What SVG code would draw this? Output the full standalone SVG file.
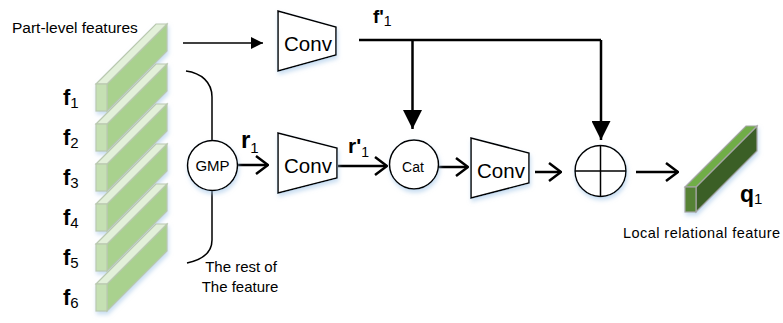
<svg xmlns="http://www.w3.org/2000/svg" width="783" height="323" viewBox="0 0 783 323">
<style>
.txt{font-family:"Liberation Sans",Arial,sans-serif;fill:#000}
.b{font-weight:bold}
.sh{fill:#fff;stroke:#000;stroke-width:1.5}
.ln{fill:none;stroke:#000;stroke-width:2.5}
.thin{fill:none;stroke:#000;stroke-width:1.5}
.ft{fill:#e2f0d9;stroke:#b9c8b0;stroke-width:1.2}
.ff{fill:#c5e0b3;stroke:#b9c8b0;stroke-width:1.2}
.fr{fill:#a9d18e;stroke:#b9c8b0;stroke-width:1.2}
</style>
<defs>
<filter id="glow" x="-30%" y="-30%" width="160%" height="160%">
<feDropShadow dx="1" dy="3" stdDeviation="2" flood-color="#9dc3e6" flood-opacity="0.55"/>
</filter>
<g id="bar">
<polygon class="fr" points="11,0 71,-60 71,-33 11,27"/>
<polygon class="ft" points="0,0 11,0 71,-60 60,-60"/>
<rect class="ff" x="0" y="0" width="11" height="27"/>
</g>
<marker id="tri" viewBox="0 0 10 10" refX="10" refY="5" markerWidth="12" markerHeight="12" markerUnits="userSpaceOnUse" orient="auto">
<path d="M0,0 L10,5 L0,10 Z" fill="#000"/>
</marker>
<marker id="triB" viewBox="0 0 20 20" refX="20" refY="10" markerWidth="20" markerHeight="19" markerUnits="userSpaceOnUse" orient="auto">
<path d="M0,0 L20,10 L0,20 Z" fill="#000"/>
</marker>
<marker id="chev" viewBox="0 0 14 20" refX="13" refY="10" markerWidth="14" markerHeight="20" markerUnits="userSpaceOnUse" orient="auto">
<path d="M1,1 L13,10 L1,19" fill="none" stroke="#000" stroke-width="2.5"/>
</marker>
</defs>

<text class="txt" x="12" y="33" font-size="15.5">Part-level features</text>

<g id="bars" filter="url(#glow)">
<g id="bar-f1"><use href="#bar" x="96" y="84"/></g>
<g id="bar-f2"><use href="#bar" x="96" y="124"/></g>
<g id="bar-f3"><use href="#bar" x="96" y="164"/></g>
<g id="bar-f4"><use href="#bar" x="96" y="204"/></g>
<g id="bar-f5"><use href="#bar" x="96" y="244"/></g>
<g id="bar-f6"><use href="#bar" x="96" y="284"/></g>
</g>
<g id="flabels">
<text class="txt b" x="63" y="105" font-size="22">f<tspan font-weight="normal" font-size="15" dy="3">1</tspan></text>
<text class="txt b" x="63" y="145" font-size="22">f<tspan font-weight="normal" font-size="15" dy="3">2</tspan></text>
<text class="txt b" x="63" y="185" font-size="22">f<tspan font-weight="normal" font-size="15" dy="3">3</tspan></text>
<text class="txt b" x="63" y="225" font-size="22">f<tspan font-weight="normal" font-size="15" dy="3">4</tspan></text>
<text class="txt b" x="63" y="265" font-size="22">f<tspan font-weight="normal" font-size="15" dy="3">5</tspan></text>
<text class="txt b" x="63" y="305" font-size="22">f<tspan font-weight="normal" font-size="15" dy="3">6</tspan></text>
</g>

<g id="connectors">
<line class="thin" x1="183" y1="43" x2="263" y2="43" marker-end="url(#tri)"/>
<path class="thin" d="M186,71 C201,73 212,82 212,97 L212,141"/>
<path class="thin" d="M212,190 L212,240 C212,253 201,260 187,263"/>
<path class="ln" d="M359,40 L601,40"/>
<line class="ln" x1="412.5" y1="40" x2="412.5" y2="129" marker-end="url(#triB)"/>
<line class="ln" x1="601" y1="40" x2="601" y2="140" marker-end="url(#triB)"/>
<line class="ln" x1="238" y1="165" x2="268" y2="165" marker-end="url(#chev)"/>
<line class="ln" x1="338" y1="166" x2="387" y2="166" marker-end="url(#chev)"/>
<line class="ln" x1="439" y1="167" x2="468" y2="167" marker-end="url(#chev)"/>
<line class="ln" x1="535" y1="172" x2="561" y2="172" marker-end="url(#chev)"/>
<line class="ln" x1="636" y1="172" x2="678" y2="172" marker-end="url(#chev)"/>
</g>

<g id="conv1">
<polygon class="sh" filter="url(#glow)" points="278,11 336,27 336,55 278,71"/>
<text class="txt" x="308" y="51" font-size="20.5" text-anchor="middle">Conv</text>
</g>
<g id="gmp">
<circle class="sh" filter="url(#glow)" cx="212.5" cy="165.5" r="25"/>
<text class="txt" x="212.5" y="171" font-size="15" text-anchor="middle">GMP</text>
</g>
<g id="conv2">
<polygon class="sh" filter="url(#glow)" points="278,133 337,148 337,178 278,193"/>
<text class="txt" x="308" y="173" font-size="20.5" text-anchor="middle">Conv</text>
</g>
<g id="cat">
<circle class="sh" filter="url(#glow)" cx="414" cy="164.5" r="24.5"/>
<text class="txt" x="413" y="172" font-size="14" text-anchor="middle">Cat</text>
</g>
<g id="conv3">
<polygon class="sh" filter="url(#glow)" points="471,138 529,153 529,183 471,198"/>
<text class="txt" x="501" y="178" font-size="20.5" text-anchor="middle">Conv</text>
</g>
<g id="sum">
<circle class="sh" filter="url(#glow)" cx="600.5" cy="171" r="25.5"/>
<line class="thin" x1="600.5" y1="145.5" x2="600.5" y2="196.5"/>
<line class="thin" x1="575" y1="171" x2="626" y2="171"/>
</g>
<g id="q1">
<g filter="url(#glow)">
<polygon fill="#3b5e26" stroke="#a6a6a6" stroke-width="1.2" points="696,187 757,126 757,151 696,212"/>
<polygon fill="#70ad47" stroke="#a6a6a6" stroke-width="1.2" points="685,187 696,187 757,126 746,126"/>
<rect fill="#548235" stroke="#a6a6a6" stroke-width="1.2" x="685" y="187" width="11" height="25"/>
</g>
<text class="txt b" x="740" y="202" font-size="23">q<tspan font-weight="normal" font-size="15" dy="2">1</tspan></text>
</g>

<g id="labels">
<text class="txt b" x="241" y="148" font-size="24">r<tspan font-weight="normal" font-size="15" dy="5">1</tspan></text>
<text class="txt b" x="348" y="153" font-size="21">r'<tspan font-weight="normal" font-size="14" dy="4">1</tspan></text>
<text class="txt b" x="373" y="23" font-size="19">f'<tspan font-weight="normal" font-size="14" dy="3">1</tspan></text>
<text class="txt" x="241" y="272" font-size="15" text-anchor="middle">The rest of</text>
<text class="txt" x="240" y="292" font-size="15" text-anchor="middle">The feature</text>
<text class="txt" x="623" y="238" font-size="14.5" textLength="157">Local relational feature</text>
</g>
</svg>
